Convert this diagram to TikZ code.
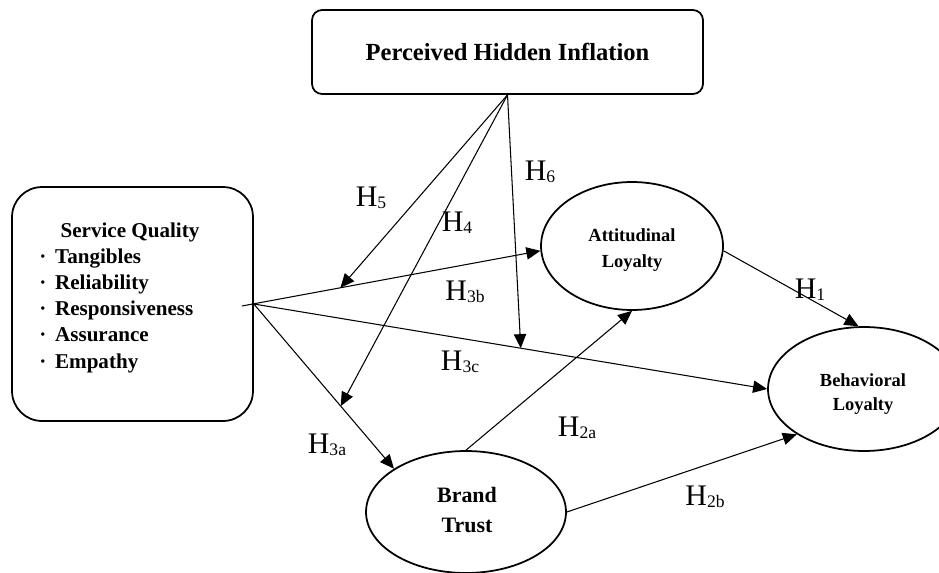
\documentclass[tikz,border=0pt]{standalone}
\usepackage{fontspec}
\setmainfont{Liberation Serif}
\usetikzlibrary{shapes.geometric,arrows.meta,calc}
\newcommand{\hyp}[1]{H\raisebox{-1pt}{\fontsize{10}{10}\selectfont #1}}
\newcommand{\sqitem}[1]{\makebox[9pt][l]{·}#1}
\begin{document}
\begin{tikzpicture}[x=0.02cm,y=-0.02cm,
  box/.style={draw, line width=1pt},
  construct/.style={ellipse, draw, line width=1pt, inner sep=0pt},
  link/.style={-{Triangle[length=8pt,width=7pt]}, line width=0.6pt},
  hlabel/.style={font=\fontsize{17}{17}\selectfont, inner sep=0pt}]
\useasboundingbox (0,0) rectangle (939,572);
\node[box, rounded corners=0.2cm, minimum width=7.82cm, minimum height=1.68cm,
  font=\bfseries\fontsize{14}{17}\selectfont] (phi) at (507.5,52) {Perceived Hidden Inflation};
\node[box, rounded corners=0.6cm, minimum width=4.82cm, minimum height=4.68cm] (sq) at (132.5,304) {};
\node[font=\bfseries\fontsize{12}{14.8}\selectfont] (sqtitle) at (130,232) {Service Quality};
\node[anchor=north west, align=left, inner sep=0pt, font=\bfseries\fontsize{12}{14.8}\selectfont] (sqlist) at (39,249)
  {\sqitem{Tangibles}\\ \sqitem{Reliability}\\ \sqitem{Responsiveness}\\ \sqitem{Assurance}\\ \sqitem{Empathy}};
\coordinate (sqtail) at ($(sq.east)+(-12,2)$);
\node[construct, minimum width=3.64cm, minimum height=2.56cm] (att) at (632,246) {};
\node[align=center, font=\bfseries\fontsize{10.5}{14.8}\selectfont] (atttext) at (632,250) {Attitudinal\\Loyalty};
\node[construct, minimum width=3.84cm, minimum height=2.48cm] (beh) at (864,389) {};
\node[align=center, font=\bfseries\fontsize{10.5}{13.6}\selectfont] (behtext) at (863,394) {Behavioral\\Loyalty};
\node[construct, minimum width=4.0cm, minimum height=2.44cm] (bt) at (466,512) {};
\node[align=center, font=\bfseries\fontsize{12.5}{17}\selectfont] (bttext) at (467,510) {Brand\\Trust};
\coordinate (h5end) at ($(sqtail)!0.33!(att.183)$);
\coordinate (h4end) at ($(sq.east)!0.62!(bt.149)$);
\coordinate (h6end) at ($(sq.east)!0.52!(beh.west)$);
\draw[link] (sqtail) -- (att.183);
\draw[link] (sq.east) -- (beh.west);
\draw[link] (sq.east) -- (bt.149);
\draw[link] (phi.south) -- (h5end);
\draw[link] (phi.south) -- (h4end);
\draw[link] (phi.south) -- (h6end);
\draw[link] (bt.north) -- (att.south);
\draw[link] (bt.east) -- (beh.214);
\draw[link] (att.357) -- (beh.95);
\node[hlabel] (h5) at (371,198) {\hyp{5}};
\node[hlabel] (h4) at (457,223) {\hyp{4}};
\node[hlabel] (h6) at (540,172) {\hyp{6}};
\node[hlabel] (h3b) at (465,292) {\hyp{3b}};
\node[hlabel] (h3c) at (460,362) {\hyp{3c}};
\node[hlabel] (h3a) at (327,445) {\hyp{3a}};
\node[hlabel] (h1) at (810,290) {\hyp{1}};
\node[hlabel] (h2a) at (577,428) {\hyp{2a}};
\node[hlabel] (h2b) at (705,497) {\hyp{2b}};
\end{tikzpicture}
\end{document}
